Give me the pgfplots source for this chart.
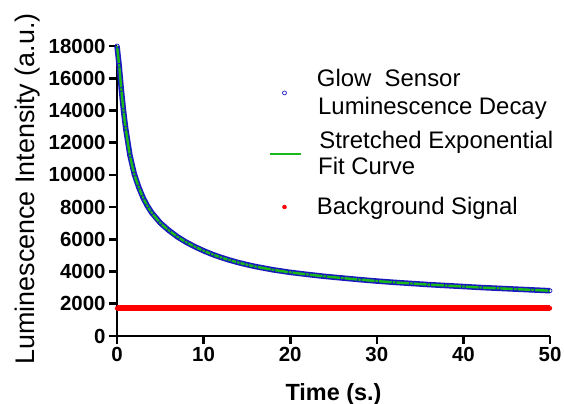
\documentclass[border=0pt]{standalone}
\usepackage{pgfplots}
\pgfplotsset{compat=1.18}
\usepackage{pgfplotstable}
\usepackage{fontspec}
\setmainfont{Liberation Sans}
\definecolor{myblue}{RGB}{25,25,190}
\definecolor{mygreen}{RGB}{25,185,25}
\definecolor{myred}{RGB}{255,0,0}

\newcommand\legspan{\pgfpathmoveto{\pgfpoint{0bp}{0bp}}\pgfpathlineto{\pgfpoint{31bp}{0bp}}\pgfusepath{}}

\pgfplotsset{
  geom/.style={at={(0,0)}, anchor=south west, scale only axis, width=433bp, height=290bp,
    xmin=0, xmax=50, ymin=0, ymax=18000},
  legax/.style={geom, hide axis, legend cell align=left,
    legend style={anchor=north west, draw=none, fill=none, inner sep=0pt, outer sep=0pt,
      column sep=17bp, font=\fontsize{24}{28}\selectfont,
      nodes={inner sep=0pt, text height=17.5bp, text depth=5bp}}},
  bluleg/.style={legend image code/.code={\legspan \draw[##1] plot coordinates {(15.5bp,-12.5bp)};}},
  redleg/.style={legend image code/.code={\legspan \draw[##1] plot coordinates {(15.5bp,1.75bp)};}},
  lineleg/.style={legend image code/.code={\legspan \draw[##1] (0bp,-12.25bp) -- (31bp,-12.25bp);}},
}

\pgfplotstableread{
t y
0 18000
0.25 16800
0.5 15300
0.75 14000
1 12900
1.5 11200
2 10050
2.5 9250
3 8600
3.5 8080
4 7660
5 7020
6 6550
7 6150
8 5820
9 5540
10 5290
11 5070
12 4880
13 4710
14 4560
15 4430
16 4310
18 4110
20 3950
22 3820
24 3700
26 3600
28 3500
30 3410
32 3330
34 3260
36 3190
38 3130
40 3070
42 3010
44 2960
46 2910
48 2860
50 2810
}\decay

\pgfplotstableread{
t y
0 1720
5 1720
10 1720
15 1720
20 1720
25 1720
30 1720
35 1720
40 1720
45 1720
50 1720
}\background

\begin{document}
\begin{tikzpicture}
\path[use as bounding box] (-117bp,-68bp) rectangle (447bp,336bp);
\begin{axis}[
  geom,
  clip=false,
  axis x line=bottom, axis y line=left,
  axis line style={line width=2.6bp, -},
  xtick={0,10,...,50}, ytick={0,2000,...,18000},
  tick align=outside, major tick length=8bp,
  tick style={line width=2.6bp, black},
  /pgf/number format/assume math mode=true,
  /pgf/number format/1000 sep={},
  scaled y ticks=false,
  every tick label/.append style={font=\bfseries\fontsize{20.5}{24}\selectfont},
  xlabel={Time (s.)}, ylabel={Luminescence Intensity (a.u.)},
  xlabel style={font=\bfseries\fontsize{23.5}{28}\selectfont, at={(axis description cs:0.5,0)}, anchor=center, yshift=-58bp},
  ylabel style={font=\fontsize{27}{30}\selectfont, at={(axis description cs:-0.206,0.507)}, anchor=center},
]
\addplot[myblue, line width=5.5bp] table {\decay};
\addplot[only marks, mark=o, mark size=2bp, myblue, line width=0.7bp] table {\decay};
\addplot[mygreen, line width=2.4bp, smooth] table {\decay};
\addplot[myred, line width=6bp] table {\background};
\addplot[only marks, mark=*, mark size=2bp, myred] table {\background};
\node[anchor=base west, inner sep=0pt, font=\fontsize{24}{28}\selectfont] at (axis description cs:0.4642,0.7621) {Luminescence Decay};
\node[anchor=base west, inner sep=0pt, font=\fontsize{24}{28}\selectfont] at (axis description cs:0.4642,0.5552) {Fit Curve};
\end{axis}
\begin{axis}[legax, legend style={at={(axis description cs:0.351,0.920)}}]
\addlegendimage{only marks, mark=o, mark size=2bp, myblue, line width=0.7bp, bluleg}
\addlegendentry{Glow\ \ Sensor}
\end{axis}
\begin{axis}[legax, legend style={at={(axis description cs:0.351,0.7086)}}]
\addlegendimage{mygreen, line width=2.4bp, lineleg}
\addlegendentry{Stretched Exponential}
\end{axis}
\begin{axis}[legax, legend style={at={(axis description cs:0.351,0.4776)}}]
\addlegendimage{only marks, mark=*, mark size=2bp, myred, redleg}
\addlegendentry{Background Signal}
\end{axis}
\end{tikzpicture}
\end{document}
